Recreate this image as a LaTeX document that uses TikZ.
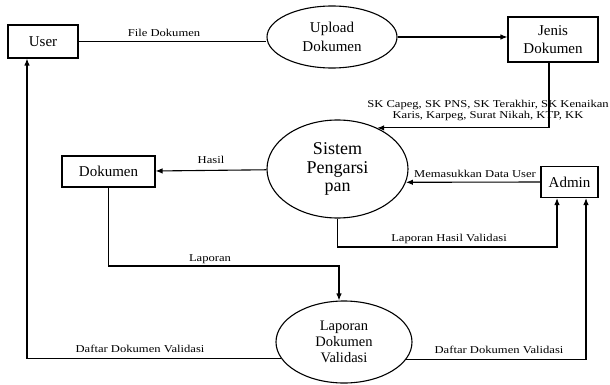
\documentclass[tikz,border=0pt]{standalone}
\usepackage{fontspec}
\setmainfont{Liberation Serif}
\usetikzlibrary{shapes.geometric,arrows.meta}

\begin{document}
\begin{tikzpicture}[x=1pt, y=-1pt, >={Latex[length=7pt,width=5.5pt]}, line width=1.1pt,
    entity/.style={draw, rectangle, inner sep=0pt, align=center, font=\fontsize{15}{18}\selectfont},
    process/.style={draw, ellipse, inner sep=0pt, align=center},
    flow/.style={inner sep=0pt, xscale=1.2, font=\fontsize{10.5}{11.5}\selectfont}]

    \useasboundingbox (0,0) rectangle (610,385);

    % ================================================================================================
    % entitas
    % ================================================================================================
    \node [entity, minimum width=70pt, minimum height=33pt] (user) at (43,41.5) {User};
    \node [entity, minimum width=90pt, minimum height=45pt] (jenis) at (553,39.5) {Jenis\\Dokumen};
    \node [entity, minimum width=93pt, minimum height=31pt] (dokumen) at (108.5,171.5) {Dokumen};
    \node [entity, minimum width=57pt, minimum height=31pt] (admin) at (569.5,182) {Admin};

    % ================================================================================================
    % proses
    % ================================================================================================
    \node [process, minimum width=130pt, minimum height=62pt, font=\fontsize{15}{19}\selectfont] (upload) at (332,37) {Upload\\Dokumen};
    \node [process, minimum width=141pt, minimum height=98pt, font=\fontsize{18}{18.5}\selectfont] (sistem) at (337.5,169) {Sistem\\Pengarsi\\pan};
    \node [process, minimum width=136pt, minimum height=82pt, font=\fontsize{14.5}{16}\selectfont] (laporan) at (344,342) {Laporan\\Dokumen\\Validasi};

    % ================================================================================================
    % aliran
    % ================================================================================================
    \coordinate (bend-adm) at (557,247);
    \coordinate (bend-lap) at (339,266);

    \draw (user.east) -- (user.east -| upload.west);
    \draw [->] (upload.east) -- (upload.east -| jenis.west);
    \draw [->] ([xshift=-4pt]jenis.south) |- (sistem.46);
    \draw [->] (sistem) -- (dokumen);
    \draw [->] (admin.west) -- (sistem.-11);
    \draw [->] (sistem.south) |- (bend-adm) -- (bend-adm |- admin.south);
    \draw [->] (dokumen.south) |- (bend-lap) -- (bend-lap |- laporan.north);
    \draw [->] (laporan.195) -| ([xshift=-16pt]user.south);
    \draw [->] (laporan.-16) -| ([xshift=16.5pt]admin.south);

    % ================================================================================================
    % label aliran
    % ================================================================================================
    \foreach \t/\x/\y [count=\i] in {File Dokumen/164/37, Hasil/211/164, Laporan/210/261,
        Memasukkan Data User/475/177, Laporan Hasil Validasi/449/241,
        Daftar Dokumen Validasi/140/352, Daftar Dokumen Validasi/499/353}
    \node [flow, anchor=base] (flow-\i) at (\x,\y) {\t};

    \node [flow, align=center, anchor=south] (flow-sk) at (488,121.5)
    {SK Capeg, SK PNS, SK Terakhir, SK Kenaikan\\Karis, Karpeg, Surat Nikah, KTP, KK};

\end{tikzpicture}
\end{document}
